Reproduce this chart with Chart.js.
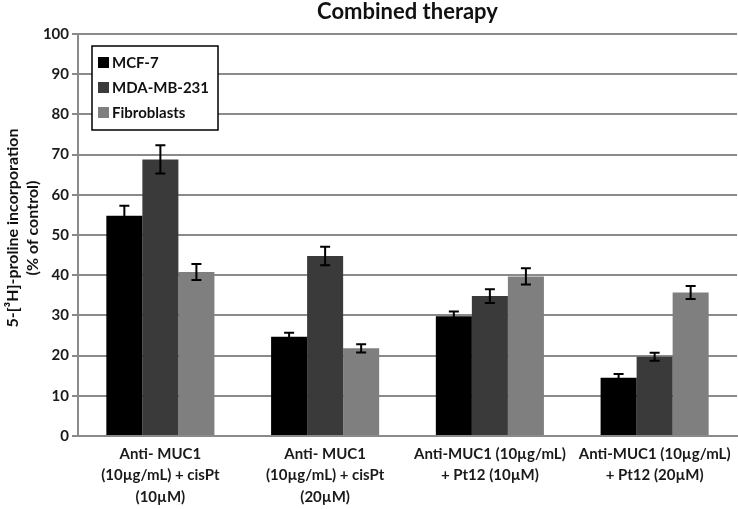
<!DOCTYPE html>
<html>
<head>
<meta charset="utf-8">
<script src="https://cdn.jsdelivr.net/npm/chart.js@4"></script>
<style>
html,body{margin:0;padding:0;background:#fff;}
#wrap{width:738px;height:509px;position:relative;}
</style>
</head>
<body>
<div id="wrap"><canvas id="c" width="738" height="509"></canvas></div>
<script>
const categories = [
  ["Anti- MUC1", "(10µg/mL) + cisPt", "(10µM)"],
  ["Anti- MUC1", "(10µg/mL) + cisPt", "(20µM)"],
  ["Anti-MUC1 (10µg/mL)", "+ Pt12 (10µM)"],
  ["Anti-MUC1 (10µg/mL)", "+ Pt12 (20µM)"]
];
const seriesNames = ["MCF-7", "MDA-MB-231", "Fibroblasts"];
const mcf7 = [54.8, 24.7, 29.8, 14.5];
const mdamb231 = [68.8, 44.8, 34.8, 19.7];
const fibroblasts = [40.8, 21.8, 39.7, 35.7];
const mcf7Err = [2.5, 1.0, 1.2, 0.9];
const mdamb231Err = [3.5, 2.3, 1.7, 1.0];
const fibroblastsErr = [2.0, 1.0, 2.0, 1.6];
const yTicks = [0, 10, 20, 30, 40, 50, 60, 70, 80, 90, 100];
const chartTitle = "Combined therapy";
const yTitle = ["5-[³H]-proline incorporation", "(% of control)"];

const FONT = "Lato, 'Liberation Sans', sans-serif";
const colors = ["#000000", "#3a3a3a", "#7f7f7f"];
const errs = [mcf7Err, mdamb231Err, fibroblastsErr];

const errorBars = {
  id: 'errorBars',
  afterDatasetsDraw(chart) {
    const ctx = chart.ctx;
    const y = chart.scales.y;
    ctx.save();
    ctx.strokeStyle = '#000';
    ctx.lineWidth = 2;
    chart.data.datasets.forEach((ds, di) => {
      const meta = chart.getDatasetMeta(di);
      meta.data.forEach((bar, i) => {
        const v = ds.data[i], e = errs[di][i];
        const x = bar.x;
        const yt = y.getPixelForValue(v + e), yb = y.getPixelForValue(v - e);
        ctx.beginPath();
        ctx.moveTo(x, yt); ctx.lineTo(x, yb);
        ctx.moveTo(x - 5, yt); ctx.lineTo(x + 5, yt);
        ctx.moveTo(x - 5, yb); ctx.lineTo(x + 5, yb);
        ctx.stroke();
      });
    });
    ctx.restore();
  }
};

const boxLegend = {
  id: 'boxLegend',
  afterDraw(chart) {
    const ctx = chart.ctx;
    const ca = chart.chartArea;
    const x0 = ca.left + 14, y0 = ca.top + 12, w = 126, h = 84;
    ctx.save();
    ctx.fillStyle = '#fff';
    ctx.fillRect(x0, y0, w, h);
    ctx.strokeStyle = '#000';
    ctx.lineWidth = 1.5;
    ctx.strokeRect(x0, y0, w, h);
    ctx.font = "bold 15px " + FONT;
    ctx.textBaseline = 'middle';
    chart.data.datasets.forEach((ds, i) => {
      const cy = y0 + 16 + i * 25;
      ctx.fillStyle = ds.backgroundColor;
      ctx.fillRect(x0 + 6, cy - 5, 11, 11);
      ctx.fillStyle = '#111';
      ctx.fillText(ds.label, x0 + 20, cy + 1);
    });
    ctx.restore();
  }
};

const texts = {
  id: 'texts',
  afterDraw(chart) {
    const ctx = chart.ctx;
    const ca = chart.chartArea;
    ctx.save();
    ctx.fillStyle = '#111';
    ctx.textAlign = 'center';
    ctx.textBaseline = 'middle';
    ctx.font = "bold 22px " + FONT;
    ctx.fillText(chartTitle, (ca.left + ca.right) / 2, 12);
    ctx.font = "bold 16px " + FONT;
    ctx.translate(0, 228);
    ctx.rotate(-Math.PI / 2);
    yTitle.forEach((line, i) => ctx.fillText(line, 0, 13 + i * 19.5));
    ctx.restore();
  }
};

new Chart(document.getElementById('c'), {
  type: 'bar',
  data: {
    labels: categories,
    datasets: [
      { label: seriesNames[0], data: mcf7, backgroundColor: colors[0] },
      { label: seriesNames[1], data: mdamb231, backgroundColor: colors[1] },
      { label: seriesNames[2], data: fibroblasts, backgroundColor: colors[2] }
    ]
  },
  options: {
    responsive: false,
    animation: false,
    layout: { padding: { left: 0, right: 1, top: 34, bottom: 0 } },
    datasets: { bar: { categoryPercentage: 0.656, barPercentage: 1.0 } },
    plugins: {
      legend: { display: false },
      tooltip: { enabled: false },
      title: { display: false }
    },
    scales: {
      x: {
        grid: { display: false },
        border: { display: true, color: '#8a8a8a', width: 2 },
        ticks: {
          color: '#1a1a1a',
          font: { family: FONT, size: 15, weight: 'bold', lineHeight: 1.45 },
          padding: -1,
          maxRotation: 0,
          autoSkip: false
        },
        afterFit(s) { s.height = 73; }
      },
      y: {
        min: 0, max: 100,
        afterBuildTicks(s) { s.ticks = yTicks.map(v => ({ value: v })); },
        grid: { color: '#8a8a8a', lineWidth: 2, drawTicks: true, tickLength: 6 },
        border: { display: true, color: '#8a8a8a', width: 2 },
        ticks: {
          color: '#1a1a1a',
          font: { family: FONT, size: 15, weight: 'bold' },
          padding: 3
        },
        title: { display: false },
        afterFit(s) { s.width = 78; }
      }
    }
  },
  plugins: [errorBars, boxLegend, texts]
});
</script>
</body>
</html>
